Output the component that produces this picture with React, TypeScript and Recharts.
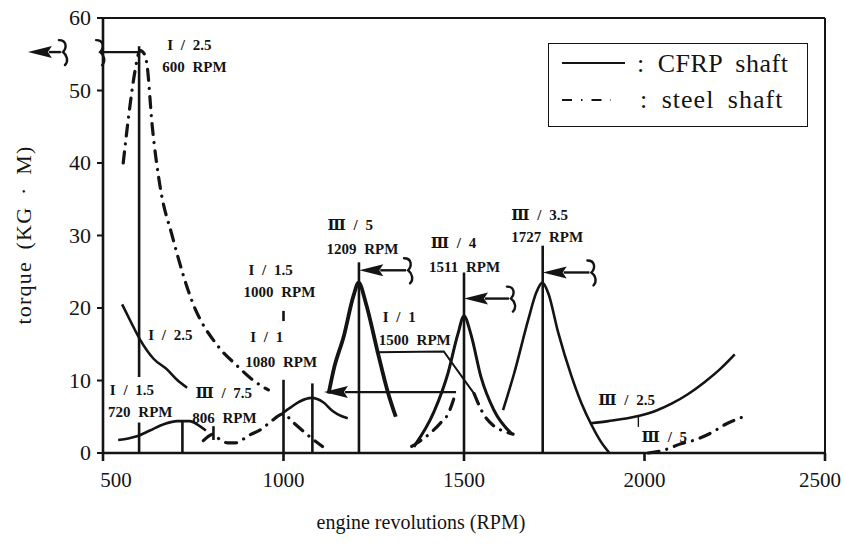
import React from 'react';
import { LineChart, Line, XAxis, YAxis, ReferenceLine, ReferenceDot, Legend } from 'recharts';

type Pt = [number, number];

// ---- axes ----
const rpmTicks = [500, 1000, 1500, 2000, 2500];
const torqueTicks = [0, 10, 20, 30, 40, 50, 60];

// ---- CFRP shaft (solid) : [rpm, torque] ----
const cfrpI25Tail: Pt[] = [[553, 20.5], [578, 18], [603, 15.6], [640, 13], [678, 11.5], [705, 10.1], [733, 9.0]];
const cfrpI15at720: Pt[] = [[542, 1.8], [570, 2.0], [594, 2.3], [630, 3.1], [670, 4.0], [705, 4.4], [740, 4.4], [765, 3.8], [785, 3.1]];
const cfrpI1at1080: Pt[] = [[997, 5.5], [1020, 6.3], [1045, 7.1], [1078, 7.6], [1110, 7.0], [1136, 5.8], [1160, 5.1], [1178, 4.8]];
const cfrpIII5at1209: Pt[] = [[1125, 8.2], [1139, 11.5], [1167, 16.1], [1194, 21.7], [1208, 23.5], [1228, 20.7], [1261, 13.9], [1289, 8.4], [1311, 5.0]];
const cfrpIII4at1511: Pt[] = [[1361, 0.85], [1417, 5.7], [1455, 10.9], [1483, 16.4], [1500, 18.9], [1519, 16.4], [1547, 10.5], [1583, 5.9], [1631, 2.7]];
const cfrpIII35at1727: Pt[] = [[1608, 5.9], [1639, 11.0], [1678, 18.4], [1700, 22.1], [1717, 23.5], [1733, 22.1], [1761, 16.6], [1797, 10.7], [1825, 6.9], [1853, 3.9], [1880, 1.5], [1903, 0]];
const cfrpIII25: Pt[] = [[1850, 4.1], [1900, 4.4], [1983, 5.1], [2030, 5.8], [2075, 6.8], [2120, 8.1], [2167, 9.8], [2210, 11.6], [2250, 13.6]];
const leaderI1: Pt[] = [[1256, 13.9], [1444, 14.0], [1528, 8.2]];

// ---- steel shaft (dash-dot) ----
const steelI25: Pt[] = [[556, 40], [575, 48], [588, 52.5], [603, 55.5], [615, 55.0], [622, 53.5], [636, 45.3], [658, 36.8], [692, 29.9], [747, 20.9], [819, 14.7], [870, 12.1], [917, 10.0], [958, 8.7]];
const steelI15: Pt[] = [[778, 1.7], [795, 2.4], [806, 2.6], [820, 2.0], [845, 1.4], [867, 1.4], [903, 2.4], [939, 3.3], [964, 4.3], [1000, 5.4], [1025, 4.3], [1055, 3.0], [1081, 1.9], [1108, 0.9]];
const steelI1Rise: Pt[] = [[1355, 0.9], [1408, 2.8], [1436, 4.2], [1455, 5.3], [1478, 8.5]];
const steelI1Fall: Pt[] = [[1528, 8.2], [1556, 5.2], [1581, 3.8], [1610, 3.0], [1636, 2.6]];
const steelIII5: Pt[] = [[2010, 0], [2047, 0.3], [2103, 1.3], [2139, 1.8], [2186, 2.8], [2222, 3.9], [2269, 4.9]];

// ---- resonance marker lines: [rpm, fromTorque, toTorque] ----
const markers: [number, number, number][] = [
  [600, 0, 4.2], [600, 10.5, 56.1], [720, 0, 4.3], [806, 1.8, 3.7], [1000, 0, 10.1], [1000, 18.2, 19.6],
  [1080, 0, 9.6], [1209, 0, 26.3], [1500, 0, 24.9], [1718, 0, 28.6],
];
const smallTicks: [number, number, number][] = [[1983, 3.6, 5.1]];

// ---- arrows: [tipRpm, tailRpm, torque, head, squiggle] ----
type Sq = 'start' | 'end' | 'none';
const arrows: [number, number, number, boolean, Sq][] = [
  [292, 389, 55.3, true, 'end'],
  [492, 597, 55.3, false, 'start'],
  [1210, 1345, 25.2, true, 'end'],
  [1500, 1630, 21.3, true, 'end'],
  [1718, 1853, 24.9, true, 'end'],
  [1112, 1478, 8.4, true, 'none'],
];

// ---- annotation labels: [rpm, torque, text] ----
const notes: [number, number, string][] = [
  [678, 55.6, 'I / 2.5'], [664, 52.5, '600 RPM'],
  [625, 15.6, 'I / 2.5'],
  [519, 8.0, 'I / 1.5'], [514, 5.0, '720 RPM'],
  [756, 7.6, 'Ⅲ / 7.5'], [747, 4.1, '806 RPM'],
  [903, 24.5, 'I / 1.5'], [889, 21.5, '1000 RPM'],
  [908, 15.3, 'I / 1'], [894, 11.9, '1080 RPM'],
  [1122, 30.8, 'Ⅲ / 5'], [1119, 27.4, '1209 RPM'],
  [1408, 28.3, 'Ⅲ / 4'], [1403, 25.0, '1511 RPM'],
  [1631, 32.1, 'Ⅲ / 3.5'], [1631, 29.1, '1727 RPM'],
  [1275, 18.1, 'I / 1'], [1264, 14.9, '1500 RPM'],
  [1872, 6.6, 'Ⅲ / 2.5'], [1992, 1.5, 'Ⅲ / 5'],
];

const INK = '#141414';
const SERIF = "'Liberation Serif', 'DejaVu Serif', serif";
const serifStyle = { fontFamily: SERIF };
const toData = (pts: Pt[]) => pts.map(([x, y]) => ({ x, y }));

const solid: [Pt[], number][] = [
  [cfrpI25Tail, 2.6], [cfrpI15at720, 2.6], [cfrpI1at1080, 2.6], [cfrpIII5at1209, 3.8],
  [cfrpIII4at1511, 3.0], [cfrpIII35at1727, 2.6], [cfrpIII25, 2.6],
];
const dashed: Pt[][] = [steelI25, steelI15, steelI1Rise, steelI1Fall, steelIII5];
const DASH = '11 8 0.1 8';

const brace = (x: number, y: number) =>
  `M${x - 4},${y - 12} C${x + 4},${y - 12} ${x + 4},${y - 4} ${x},${y} C${x + 4},${y + 3} ${x + 6},${y + 9} ${x + 2},${y + 13}`;

const makeArrow = (head: boolean, sq: Sq) => (props: any) => {
  const { x1, y1, x2 } = props;
  const l = Math.min(x1, x2);
  const r = Math.max(x1, x2);
  const y = y1;
  const hl = 24;
  const hh = 6;
  const s = head ? l + hl - 3 : sq === 'start' ? l + 3 : l;
  const e = sq === 'end' ? r - 2 : r;
  return (
    <g>
      <line x1={s} y1={y} x2={e} y2={y} stroke={INK} strokeWidth={2.4} />
      {head && <path d={`M${l},${y} L${l + hl},${y - hh} L${l + hl - 4},${y} L${l + hl},${y + hh} Z`} fill={INK} />}
      {sq === 'end' && <path d={brace(r, y)} fill="none" stroke={INK} strokeWidth={2.4} strokeLinecap="round" />}
      {sq === 'start' && <path d={brace(l, y)} fill="none" stroke={INK} strokeWidth={2.4} strokeLinecap="round" />}
    </g>
  );
};

const XTick = (props: any) => {
  const { x, y, payload } = props;
  const dx = payload.value === 500 ? 13 : payload.value === 2500 ? -5 : 0;
  return (
    <text x={x + dx} y={y + 24} textAnchor="middle" style={{ ...serifStyle, fontSize: 21 }} fill={INK}>
      {payload.value}
    </text>
  );
};

const YTick = (props: any) => {
  const { x, y, payload } = props;
  return (
    <text x={x} y={y + 7} textAnchor="end" style={{ ...serifStyle, fontSize: 22 }} fill={INK}>
      {payload.value}
    </text>
  );
};

const LegendBox = () => (
  <div style={{ width: 260, height: 84, border: `1.5px solid ${INK}`, boxSizing: 'border-box', background: '#fff' }}>
    <svg width={258} height={82} style={{ display: 'block' }}>
      <line x1={13} y1={19} x2={76} y2={19} stroke={INK} strokeWidth={2} />
      <text x={88} y={28} style={{ ...serifStyle, fontSize: 26, letterSpacing: 0.5, wordSpacing: 6 }} fill={INK}>: CFRP shaft</text>
      <line x1={13} y1={56} x2={62} y2={56} stroke={INK} strokeWidth={2} strokeDasharray="10 9 1.5 9" />
      <text x={91} y={64} style={{ ...serifStyle, fontSize: 26, letterSpacing: 1, wordSpacing: 6 }} fill={INK}>: steel shaft</text>
    </svg>
  </div>
);

export default function App() {
  return (
    <div style={{ position: 'absolute', left: 0, top: 0, width: 844, height: 550, background: '#fff' }}>
      <LineChart width={844} height={550} margin={{ top: 18, right: 19, left: 43, bottom: 0 }}>
        <XAxis
          type="number"
          dataKey="x"
          domain={[500, 2500]}
          ticks={rpmTicks}
          height={97}
          tickSize={8}
          tickMargin={2}
          tick={<XTick />}
          axisLine={{ stroke: INK, strokeWidth: 2.6 }}
          tickLine={{ stroke: INK, strokeWidth: 2.6 }}
          label={{
            content: (p: any) => {
              const vb = p.viewBox || { x: 103, y: 453, width: 722 };
              return (
                <text x={vb.x + vb.width / 2 - 43} y={vb.y + 76} textAnchor="middle" style={{ ...serifStyle, fontSize: 20 }} fill={INK}>
                  engine revolutions (RPM)
                </text>
              );
            },
          }}
        />
        <YAxis
          type="number"
          domain={[0, 60]}
          ticks={torqueTicks}
          width={60}
          tickSize={6}
          tickMargin={6}
          tick={<YTick />}
          axisLine={{ stroke: INK, strokeWidth: 2.6 }}
          tickLine={{ stroke: INK, strokeWidth: 2 }}
          label={{
            content: () => (
              <text
                x={23}
                y={235}
                transform="rotate(-90, 23, 235)"
                textAnchor="middle"
                dominantBaseline="central"
                style={{ ...serifStyle, fontSize: 22, letterSpacing: 1.2, wordSpacing: 5 }}
                fill={INK}
              >
                torque (KG · M)
              </text>
            ),
          }}
        />
        <ReferenceLine y={60} stroke={INK} strokeWidth={2} />
        <ReferenceLine x={2500} stroke={INK} strokeWidth={2} />
        {solid.map(([pts, w], i) => (
          <Line key={`c${i}`} data={toData(pts)} dataKey="y" type="monotone" stroke={INK} strokeWidth={w}
            dot={false} activeDot={false} isAnimationActive={false} />
        ))}
        <Line data={toData(leaderI1)} dataKey="y" type="linear" stroke={INK} strokeWidth={2}
          dot={false} activeDot={false} isAnimationActive={false} />
        {dashed.map((pts, i) => (
          <Line key={`s${i}`} data={toData(pts)} dataKey="y" type="monotone" stroke={INK} strokeWidth={3.2}
            strokeDasharray={DASH} strokeLinecap="round" dot={false} activeDot={false} isAnimationActive={false} />
        ))}
        {markers.map(([x, a, b], i) => (
          <ReferenceLine key={`m${i}`} segment={[{ x, y: a }, { x, y: b }]} stroke={INK} strokeWidth={2.6} ifOverflow="visible" />
        ))}
        {smallTicks.map(([x, a, b], i) => (
          <ReferenceLine key={`t${i}`} segment={[{ x, y: a }, { x, y: b }]} stroke={INK} strokeWidth={1.4} ifOverflow="visible" />
        ))}
        {arrows.map(([tip, tail, y, head, sq], i) => (
          <ReferenceLine key={`a${i}`} segment={[{ x: tip, y }, { x: tail, y }]} ifOverflow="visible" shape={makeArrow(head, sq)} />
        ))}
        {notes.map(([x, y, t], i) => (
          <ReferenceDot key={`n${i}`} x={x} y={y} ifOverflow="visible"
            shape={(p: any) => (
              <text x={p.cx} y={p.cy} style={{ ...serifStyle, fontSize: 15, fontWeight: 700, wordSpacing: 4 }} fill={INK}>{t}</text>
            )} />
        ))}
        <Legend
          layout="horizontal"
          verticalAlign="middle"
          align="center"
          wrapperStyle={{ position: 'absolute', left: 548, top: 43, width: 260, height: 84 }}
          content={() => <LegendBox />}
        />
      </LineChart>
    </div>
  );
}
